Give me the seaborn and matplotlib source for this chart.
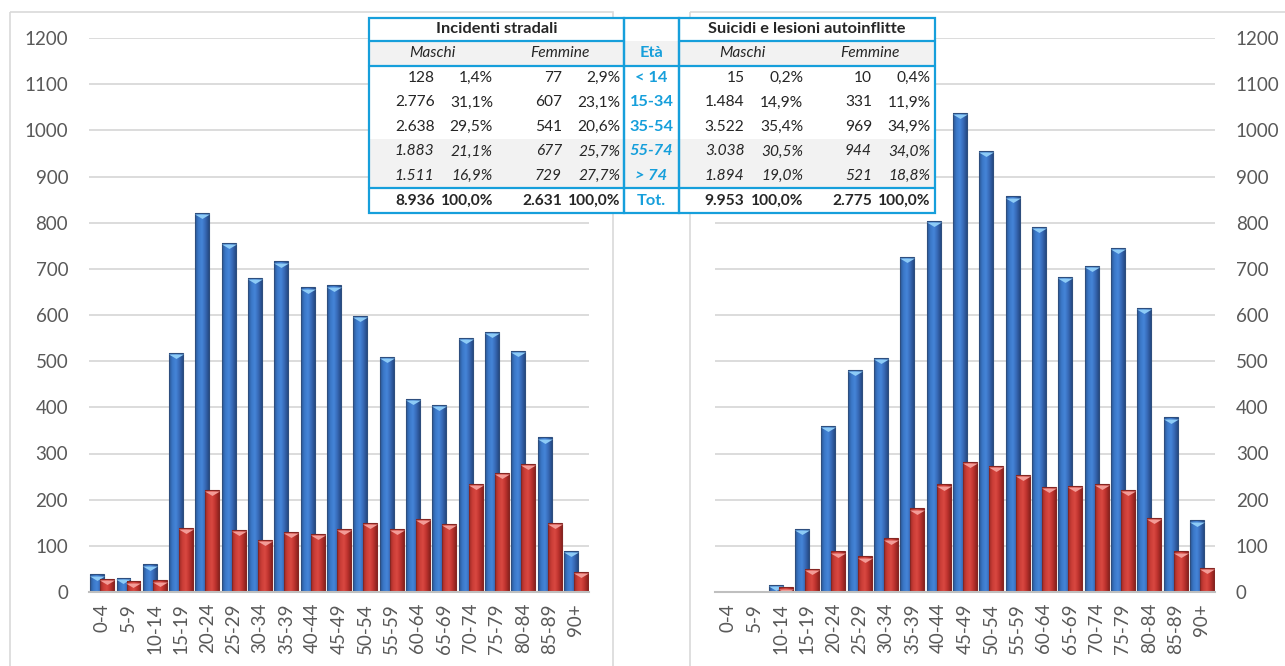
import numpy as np
import pandas as pd
import matplotlib
matplotlib.use("Agg")
import matplotlib.pyplot as plt
from matplotlib.colors import LinearSegmentedColormap
from matplotlib.patches import Rectangle
import seaborn as sns

# Age classes on the x axis
eta = ["0-4", "5-9", "10-14", "15-19", "20-24", "25-29", "30-34", "35-39",
       "40-44", "45-49", "50-54", "55-59", "60-64", "65-69", "70-74",
       "75-79", "80-84", "85-89", "90+"]

# Road accidents (left chart)
strada_maschi = [38, 30, 60, 518, 821, 757, 680, 716, 660, 664, 598,
                 510, 418, 405, 550, 564, 523, 335, 89]
strada_femmine = [29, 23, 25, 138, 222, 134, 113, 130, 125, 136, 150,
                  136, 158, 148, 235, 258, 277, 150, 44]

# Suicides and self-inflicted injuries (right chart)
suicidi_maschi = [0, 0, 15, 136, 360, 481, 507, 725, 804, 1038, 955,
                  857, 791, 683, 707, 745, 616, 378, 155]
suicidi_femmine = [0, 0, 10, 50, 88, 77, 116, 181, 233, 281, 274,
                   253, 227, 230, 234, 221, 160, 88, 52]

# Summary classes for the tables (index ranges into the age classes)
classi = ["< 14", "15-34", "35-54", "55-74", "> 74"]
classi_idx = [(0, 3), (3, 7), (7, 11), (11, 15), (15, 19)]
titolo_strada = "Incidenti stradali"
titolo_suicidi = "Suicidi e lesioni autoinflitte"
y_ticks = list(range(0, 1201, 100))

W, H = 1285, 666
BLUE_TAB = "#169FDB"
GRID = "#D9D9D9"
TICK_COL = "#595959"
SHADE = "#F2F2F2"
TAB_FS = 11.2

sns.set_style("white")
plt.rcParams["font.family"] = ["Lato", "DejaVu Sans"]

fig = plt.figure(figsize=(W / 100, H / 100), dpi=100)
fig.patch.set_facecolor("white")

# background layer in pixel coordinates (panel frames)
bg = fig.add_axes([0, 0, 1, 1], zorder=0)
bg.set_xlim(0, W)
bg.set_ylim(H, 0)
bg.axis("off")
bg.add_patch(Rectangle((10, 12), 603, 700, fill=False, ec=GRID, lw=1.2))
bg.add_patch(Rectangle((690, 12), 700, 700, fill=False, ec=GRID, lw=1.2))

blue_cmap = LinearSegmentedColormap.from_list(
    "b", ["#2B5896", "#3B78C8", "#4585D8", "#3769B6", "#254B86"])
red_cmap = LinearSegmentedColormap.from_list(
    "r", ["#A02C27", "#CB3D37", "#D94841", "#BE332E", "#8C231F"])
tri_marker = [(-1, 0), (1, 0), (0, -0.6)]


def draw_series(ax, values, offset, cmap, edge, tri_col, z):
    n_before = len(ax.patches)
    df = pd.DataFrame({"pos": np.arange(len(values)) + offset, "val": values})
    sns.barplot(data=df, x="pos", y="val", native_scale=True, width=0.53,
                color=cmap(0.5), errorbar=None, ax=ax)
    grad = np.linspace(0, 1, 64).reshape(1, -1)
    for p in ax.patches[n_before:]:
        x0, w, h = p.get_x(), p.get_width(), p.get_height()
        p.set_facecolor("none")
        p.set_edgecolor(edge)
        p.set_linewidth(0.8)
        p.set_zorder(z + 0.1)
        if h <= 0:
            continue
        im = ax.imshow(grad, cmap=cmap, extent=[x0, x0 + w, 0, h],
                       aspect="auto", zorder=z, interpolation="bilinear")
        im.set_clip_path(p)
    vals = np.asarray(values, dtype=float)
    keep = vals > 0
    px_per_unit = 554 / 1200
    ax.scatter(df["pos"][keep], vals[keep] - 1.2 / px_per_unit,
               marker=tri_marker, s=115, color=tri_col, linewidths=0,
               zorder=z + 0.2)


def setup_chart(rect, maschi, femmine, right=False):
    ax = fig.add_axes(rect, zorder=1)
    ax.set_facecolor("none")
    draw_series(ax, maschi, -0.19, blue_cmap, "#2E4E7E", "#8DCBF6", 1.5)
    draw_series(ax, femmine, 0.19, red_cmap, "#852623", "#F39C97", 2.0)
    ax.set_xlim(-0.5, len(eta) - 0.5)
    ax.set_ylim(0, 1200)
    ax.set_yticks(y_ticks)
    ax.set_yticklabels([str(t) for t in y_ticks])
    ax.set_xticks(np.arange(len(eta)))
    ax.set_xticklabels(eta, rotation=90)
    ax.set_xlabel("")
    ax.set_ylabel("")
    ax.yaxis.grid(True, color=GRID, lw=1.3)
    ax.xaxis.grid(False)
    ax.set_axisbelow(True)
    for s in ["top", "right", "left"]:
        ax.spines[s].set_visible(False)
    ax.spines["bottom"].set_color("#BFBFBF")
    ax.spines["bottom"].set_linewidth(1.5)
    ax.tick_params(axis="both", length=0, labelsize=13.5, labelcolor=TICK_COL)
    ax.tick_params(axis="y", pad=15)
    ax.tick_params(axis="x", pad=8)
    if right:
        ax.yaxis.tick_right()
        ax.tick_params(axis="y", pad=15)
    return ax


ax_l = setup_chart([89 / W, 1 - 592 / H, 500 / W, 554 / H],
                   strada_maschi, strada_femmine)
ax_r = setup_chart([715 / W, 1 - 592 / H, 500 / W, 554 / H],
                   suicidi_maschi, suicidi_femmine, right=True)

# foreground layer for the summary tables
fg = fig.add_axes([0, 0, 1, 1], zorder=10)
fg.set_xlim(0, W)
fg.set_ylim(H, 0)
fg.axis("off")


def fmt_int(v):
    return f"{v:,}".replace(",", ".")


def fmt_pct(v):
    return f"{v:.1f}%".replace(".", ",")


def summary(values):
    tot = sum(values)
    counts = [sum(values[a:b]) for a, b in classi_idx]
    return counts + [tot], [100 * c / tot for c in counts] + [100.0]


y_top, y_h1, y_h2 = 17.5, 41, 65.7
row_h = 24.5
y_tot = y_h2 + 5 * row_h
y_bot = y_tot + 24.8
row_centers = [y_h2 + row_h * (i + 0.5) for i in range(5)] + [(y_tot + y_bot) / 2]
LW = 1.6

# shaded rows across both tables and the age column
for x0, x1 in [(369, 624), (624, 679), (679, 935)]:
    fg.add_patch(Rectangle((x0, y_top), x1 - x0, y_bot - y_top,
                           fc="white", ec="none", zorder=1))
    fg.add_patch(Rectangle((x0, y_h1), x1 - x0, y_h2 - y_h1,
                           fc=SHADE, ec="none", zorder=1.5))
    fg.add_patch(Rectangle((x0, y_h2 + 3 * row_h), x1 - x0, 2 * row_h,
                           fc=SHADE, ec="none", zorder=1.5))


def draw_table(x0, x1, title, maschi, femmine):
    fg.add_patch(Rectangle((x0, y_top), x1 - x0, y_bot - y_top,
                           fill=False, ec=BLUE_TAB, lw=LW, zorder=3))
    for yy in [y_h1, y_h2, y_tot]:
        fg.plot([x0, x1], [yy, yy], color=BLUE_TAB, lw=LW, zorder=3)
    fg.text((x0 + x1) / 2, (y_top + y_h1) / 2, title, ha="center",
            va="center", fontsize=11.8, fontweight="bold", zorder=4)
    yc = (y_h1 + y_h2) / 2
    fg.text(x0 + 63, yc, "Maschi", ha="center", va="center",
            fontsize=TAB_FS, style="italic", zorder=4)
    fg.text(x0 + 191, yc, "Femmine", ha="center", va="center",
            fontsize=TAB_FS, style="italic", zorder=4)
    cm, pm = summary(maschi)
    cf, pf = summary(femmine)
    for i, y in enumerate(row_centers):
        kw = dict(va="center", ha="right", fontsize=TAB_FS, zorder=4)
        if i in (3, 4):
            kw["style"] = "italic"
        if i == 5:
            kw["fontweight"] = "bold"
        fg.text(x0 + 65.5, y, fmt_int(cm[i]), **kw)
        fg.text(x0 + 124, y, fmt_pct(pm[i]), **kw)
        fg.text(x0 + 193, y, fmt_int(cf[i]), **kw)
        fg.text(x0 + 251.5, y, fmt_pct(pf[i]), **kw)


draw_table(369, 624, titolo_strada, strada_maschi, strada_femmine)
draw_table(679, 935, titolo_suicidi, suicidi_maschi, suicidi_femmine)

# age class column between the tables
fg.add_patch(Rectangle((624, y_top), 55, y_bot - y_top,
                       fill=False, ec=BLUE_TAB, lw=LW, zorder=3))
for yy in [y_h2, y_tot]:
    fg.plot([624, 679], [yy, yy], color=BLUE_TAB, lw=LW, zorder=3)
fg.text(651.5, (y_h1 + y_h2) / 2, "Età", ha="center", va="center",
        fontsize=11.8, fontweight="bold", color=BLUE_TAB, zorder=4)
for i, lab in enumerate(classi + ["Tot."]):
    kw = dict(ha="center", va="center", fontsize=11.8, fontweight="bold",
              color=BLUE_TAB, zorder=4)
    if i in (3, 4):
        kw["style"] = "italic"
    fg.text(651.5, row_centers[i], lab, **kw)

fig.savefig("out.png", dpi=100, facecolor="white")
